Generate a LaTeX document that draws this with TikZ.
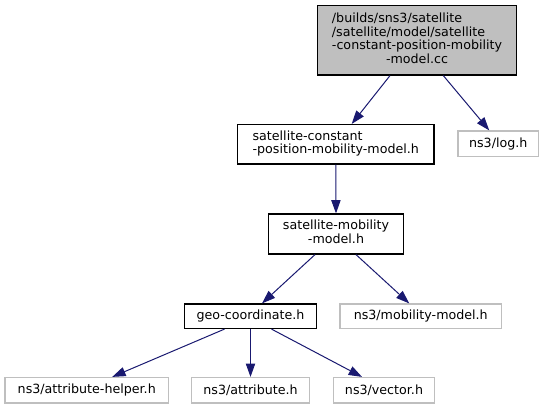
\documentclass[tikz,border=0pt]{standalone}
\usepackage{fontspec}
\setmainfont{DejaVu Sans}
\usetikzlibrary{arrows.meta}
\definecolor{edgeblue}{HTML}{191970}
\definecolor{greyseventyfive}{HTML}{BFBFBF}
\newcommand{\lastline}[1]{\multicolumn{1}{@{}c@{}}{#1}}
\begin{document}
\begin{tikzpicture}[x=0.75pt,y=-0.75pt,
  font=\fontsize{9.5}{10.3}\selectfont,
  filebox/.style={draw=black, line width=0.9pt, fill=white, inner sep=0pt},
  mainbox/.style={filebox, fill=greyseventyfive},
  extbox/.style={draw=greyseventyfive, line width=0.9pt, fill=white, inner sep=0pt},
  dep/.style={draw=edgeblue, line width=0.75pt, -{Triangle[length=10pt,width=7pt]}}]
\useasboundingbox (0,0) rectangle (545,409);
\node[mainbox, minimum width=199*0.75pt, minimum height=69.5*0.75pt] (top) at (417,40.25)
  {\begin{tabular}{@{}l@{}}/builds/sns3/satellite\\ /satellite/model/satellite\\ -constant-position-mobility\\ \lastline{-model.cc}\end{tabular}};
\node[filebox, minimum width=196.5*0.75pt, minimum height=39.5*0.75pt] (satconst) at (335.75,144.25)
  {\begin{tabular}{@{}l@{}}satellite-constant\\ \lastline{-position-mobility-model.h}\end{tabular}};
\node[extbox, minimum width=80.5*0.75pt, minimum height=25.5*0.75pt] (log) at (498.25,143.75) {ns3/log.h};
\node[filebox, minimum width=135*0.75pt, minimum height=40*0.75pt] (satmob) at (336,234)
  {\begin{tabular}{@{}l@{}}satellite-mobility\\ \lastline{-model.h}\end{tabular}};
\node[filebox, minimum width=132*0.75pt, minimum height=24.5*0.75pt] (geo) at (250.5,316.25) {geo-coordinate.h};
\node[extbox, minimum width=161.5*0.75pt, minimum height=24.5*0.75pt] (mobmodel) at (420.75,316.25) {ns3/mobility-model.h};
\node[extbox, minimum width=163.5*0.75pt, minimum height=25.5*0.75pt] (attrhelper) at (86.75,390.25) {ns3/attribute-helper.h};
\node[extbox, minimum width=118*0.75pt, minimum height=25.5*0.75pt] (attribute) at (250.5,390.25) {ns3/attribute.h};
\node[extbox, minimum width=101*0.75pt, minimum height=25.5*0.75pt] (vector) at (384,390.25) {ns3/vector.h};
\draw[dep] ([xshift=-27*0.75pt]top.south) -- ([xshift=16*0.75pt]satconst.north);
\draw[dep] ([xshift=26.3*0.75pt]top.south) -- ([xshift=-9*0.75pt]log.north);
\draw[dep] (satconst.south) -- (satmob.north);
\draw[dep] ([xshift=-21*0.75pt]satmob.south) -- ([xshift=11.5*0.75pt]geo.north);
\draw[dep] ([xshift=20*0.75pt]satmob.south) -- ([xshift=-11.5*0.75pt]mobmodel.north);
\draw[dep] ([xshift=-26*0.75pt]geo.south) -- ([xshift=25.5*0.75pt]attrhelper.north);
\draw[dep] (geo.south) -- (attribute.north);
\draw[dep] ([xshift=21*0.75pt]geo.south) -- ([xshift=-22*0.75pt]vector.north);
\end{tikzpicture}
\end{document}
